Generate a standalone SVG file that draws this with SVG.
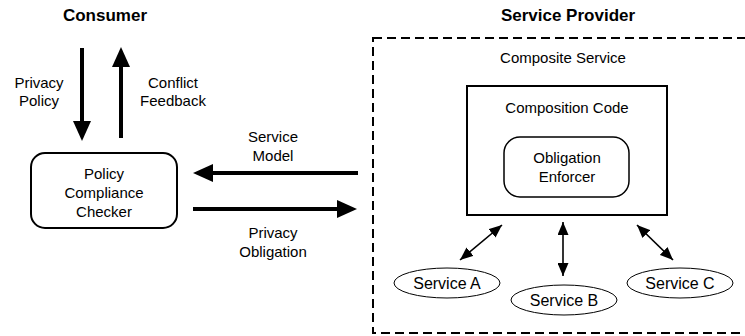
<svg xmlns="http://www.w3.org/2000/svg" width="745" height="336" viewBox="0 0 745 336">
<style>
text{font-family:"Liberation Sans",Arial,sans-serif;font-size:15px;fill:#000;text-anchor:middle}
.title{font-weight:bold;font-size:17px}
.svc{font-size:16px}
.thick{stroke:#000;stroke-width:4;fill:none}
.thin{stroke:#000;stroke-width:1.6;fill:none}
.box{fill:#fff;stroke:#000;stroke-width:2}
.oval{fill:#fff;stroke:#000;stroke-width:1}
</style>
<defs>
<marker id="bigHead" markerUnits="userSpaceOnUse" markerWidth="20" markerHeight="18" refX="0" refY="9" orient="auto">
<path d="M0,0 L20,9 L0,18 z" fill="#000"/>
</marker>
<marker id="smallHead" markerUnits="userSpaceOnUse" markerWidth="13" markerHeight="11" refX="13" refY="5.5" orient="auto-start-reverse">
<path d="M0,0 L13,5.5 L0,11 z" fill="#000"/>
</marker>
</defs>
<rect width="745" height="336" fill="#fff"/>
<text class="title" x="105" y="21">Consumer</text>
<text class="title" x="568" y="21">Service Provider</text>
<g id="provider-area">
<rect x="373" y="38" width="400" height="295" fill="none" stroke="#000" stroke-width="2" stroke-dasharray="9,5"/>
<text x="563" y="63">Composite Service</text>
</g>
<g id="policy-checker">
<rect class="box" x="31" y="153" width="146" height="75" rx="14"/>
<text x="104" y="179">Policy</text>
<text x="104" y="198">Compliance</text>
<text x="104" y="217">Checker</text>
</g>
<g id="composition-code">
<rect class="box" x="467" y="86" width="200" height="129"/>
<text x="567" y="113">Composition Code</text>
</g>
<g id="obligation-enforcer">
<rect x="504" y="137" width="125" height="60" rx="16" fill="#fff" stroke="#000" stroke-width="1.5"/>
<text x="567" y="163">Obligation</text>
<text x="567" y="182">Enforcer</text>
</g>
<g id="service-a">
<ellipse class="oval" cx="447" cy="283" rx="53" ry="15"/>
<text class="svc" x="447" y="289">Service A</text>
</g>
<g id="service-b">
<ellipse class="oval" cx="564" cy="300" rx="53" ry="15"/>
<text class="svc" x="564" y="306">Service B</text>
</g>
<g id="service-c">
<ellipse class="oval" cx="680" cy="283" rx="53" ry="15"/>
<text class="svc" x="680" y="289">Service C</text>
</g>
<g id="connectors">
<line class="thick" x1="82" y1="48" x2="82" y2="121" marker-end="url(#bigHead)"/>
<text x="39" y="88">Privacy</text>
<text x="39" y="106">Policy</text>
<line class="thick" x1="121" y1="138" x2="121" y2="67" marker-end="url(#bigHead)"/>
<text x="173" y="88">Conflict</text>
<text x="173" y="106">Feedback</text>
<line class="thick" x1="358" y1="173" x2="213" y2="173" marker-end="url(#bigHead)"/>
<text x="273" y="142">Service</text>
<text x="273" y="161">Model</text>
<line class="thick" x1="193" y1="209" x2="337" y2="209" marker-end="url(#bigHead)"/>
<text x="273" y="238">Privacy</text>
<text x="273" y="257">Obligation</text>
<line class="thin" x1="460" y1="260" x2="502" y2="225" marker-start="url(#smallHead)" marker-end="url(#smallHead)"/>
<line class="thin" x1="563" y1="222" x2="563" y2="276" marker-start="url(#smallHead)" marker-end="url(#smallHead)"/>
<line class="thin" x1="637" y1="225" x2="673" y2="260" marker-start="url(#smallHead)" marker-end="url(#smallHead)"/>
</g>
</svg>
